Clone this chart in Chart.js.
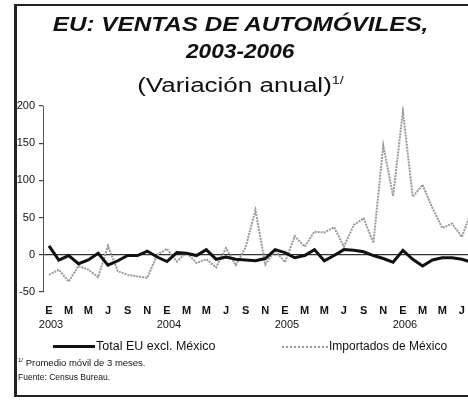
<!DOCTYPE html>
<html>
<head>
<meta charset="utf-8">
<script src="https://cdn.jsdelivr.net/npm/chart.js@4.4.1/dist/chart.umd.min.js"></script>
<style>
html, body { margin: 0; padding: 0; background: #fff; }
body { width: 468px; height: 400px; position: relative; overflow: hidden; font-family: "Liberation Sans", Arial, sans-serif; color: #111; }
#frame { position: absolute; left: 14px; top: 4px; width: 470px; height: 389px; border: 2px solid #222; border-left-width: 3px; }
#chart { position: absolute; left: 0; top: 0; }
.t { position: absolute; left: 15px; width: 451px; text-align: center; white-space: nowrap; }
.t span { display: inline-block; }
#t1 { top: 13px; font: italic bold 21px/21px "Liberation Sans", Arial, sans-serif; }
#t1 span { transform: scaleX(1.155); }
#t2 { top: 40px; font: italic bold 21px/21px "Liberation Sans", Arial, sans-serif; }
#t2 span { transform: scaleX(1.08); }
#t3 { top: 75px; font: 20px/20px "Liberation Sans", Arial, sans-serif; }
#t3 span { transform: scaleX(1.3); }
#t3 sup { font-size: 11px; vertical-align: 8px; line-height: 0; }
.leg { position: absolute; top: 339px; font-size: 12.5px; line-height: 14px; white-space: nowrap; }
.leg i { display: inline-block; vertical-align: middle; margin-right: 1px; }
#l1 { left: 53px; }
#l1 i { width: 42px; border-top: 3px solid #111; }
#l2 { left: 282px; font-size: 12px; }
#l2 i { width: 46px; border-top: 2px dotted #999; }
.note { position: absolute; left: 18px; font-size: 8.5px; white-space: nowrap; }
</style>
</head>
<body>
<div id="frame"></div>
<canvas id="chart" width="468" height="400"></canvas>
<div class="t" id="t1"><span>EU: VENTAS DE AUTOMÓVILES,</span></div>
<div class="t" id="t2"><span>2003-2006</span></div>
<div class="t" id="t3"><span>(Variación anual)<sup>1/</sup></span></div>
<div class="leg" id="l1"><i></i>Total EU excl. México</div>
<div class="leg" id="l2"><i></i>Importados de México</div>
<div class="note" style="top:357px;font-size:9.5px;"><sup style="font-size:6px">1/</sup> Promedio móvil de 3 meses.</div>
<div class="note" style="top:372px;">Fuente: Census Bureau.</div>
<script>
// Meses (índice 0 = enero 2003)
const mesLetras = ['E','M','M','J','S','N','E','M','M','J','S','N','E','M','M','J','S','N','E','M','M','J'];
const mesIdx = [0,2,4,6,8,10,12,14,16,18,20,22,24,26,28,30,32,34,36,38,40,42];
const anios = ['2003','2004','2005','2006'];
const anioIdx = [0,12,24,36];
const yTicks = [200,150,100,50,0,-50];

// Total EU excl. México, variación anual (%)
const totalEU = [12,-7,-1,-12,-7,2,-14,-8,-1,-1,5,-3,
                 -9,3,2,-1,7,-6,-3,-6,-7,-8,-5,7,
                 3,-4,-1,7,-8,-1,7,6,4,-1,-5,-10,
                 6,-6,-15,-7,-4,-4,-6,-10];
// Importados de México, variación anual (%)
const importMex = [-27,-20,-36,-15,-20,-30,12,-22,-27,-29,-31,0,
                   8,-9,3,-11,-6,-17,9,-14,10,60,-13,6,
                   -10,25,11,31,30,37,11,40,49,16,147,79,
                   193,78,94,63,36,42,24,60];

const toPts = arr => arr.map((v, i) => ({ x: i, y: v }));

// Etiquetas de año bajo las letras de mes
const yearPlugin = {
  id: 'years',
  afterDraw(chart) {
    const xs = chart.scales.x;
    const ctx = chart.ctx;
    ctx.save();
    ctx.font = '11px "Liberation Sans", Arial, sans-serif';
    ctx.fillStyle = '#111';
    ctx.textAlign = 'center';
    ctx.textBaseline = 'middle';
    anios.forEach((a, k) => {
      ctx.fillText(a, xs.getPixelForValue(anioIdx[k]) + 2, xs.top + 33);
    });
    ctx.restore();
  }
};

const ctx = document.getElementById('chart').getContext('2d');
new Chart(ctx, {
  type: 'line',
  data: {
    datasets: [{
      label: 'Total EU excl. México',
      data: toPts(totalEU),
      borderColor: '#111',
      borderWidth: 3,
      pointRadius: 0,
      tension: 0,
      order: 1
    }, {
      label: 'Importados de México',
      data: toPts(importMex),
      borderColor: '#999',
      borderWidth: 2,
      borderDash: [2, 1],
      pointRadius: 0,
      tension: 0,
      order: 2
    }]
  },
  options: {
    responsive: false,
    animation: false,
    layout: { padding: { top: 106, left: 0, right: 0, bottom: 78 } },
    plugins: { legend: { display: false }, tooltip: { enabled: false } },
    scales: {
      x: {
        type: 'linear',
        min: -0.61,
        max: 42.62,
        afterBuildTicks: s => { s.ticks = mesIdx.map(v => ({ value: v })); },
        afterFit: s => { s.height = 30; s.paddingLeft = 0; s.paddingRight = 0; },
        grid: { display: false, drawTicks: false },
        border: { display: false },
        ticks: {
          autoSkip: false,
          maxRotation: 0,
          padding: 12,
          color: '#111',
          font: { family: '"Liberation Sans", Arial, sans-serif', size: 11, weight: 'bold' },
          callback: (v, i) => mesLetras[i]
        }
      },
      y: {
        min: -50,
        max: 200,
        afterBuildTicks: s => { s.ticks = yTicks.map(v => ({ value: v })); },
        afterFit: s => { s.width = 43; },
        grid: {
          color: c => c.tick && c.tick.value === 0 ? '#333' : 'rgba(0,0,0,0)',
          lineWidth: 1.2,
          tickColor: '#444',
          tickLength: 4
        },
        border: { display: true, color: '#555', width: 1 },
        ticks: {
          padding: 4,
          color: '#111',
          font: { family: '"Liberation Sans", Arial, sans-serif', size: 11 }
        }
      }
    }
  },
  plugins: [yearPlugin]
});
</script>
</body>
</html>
